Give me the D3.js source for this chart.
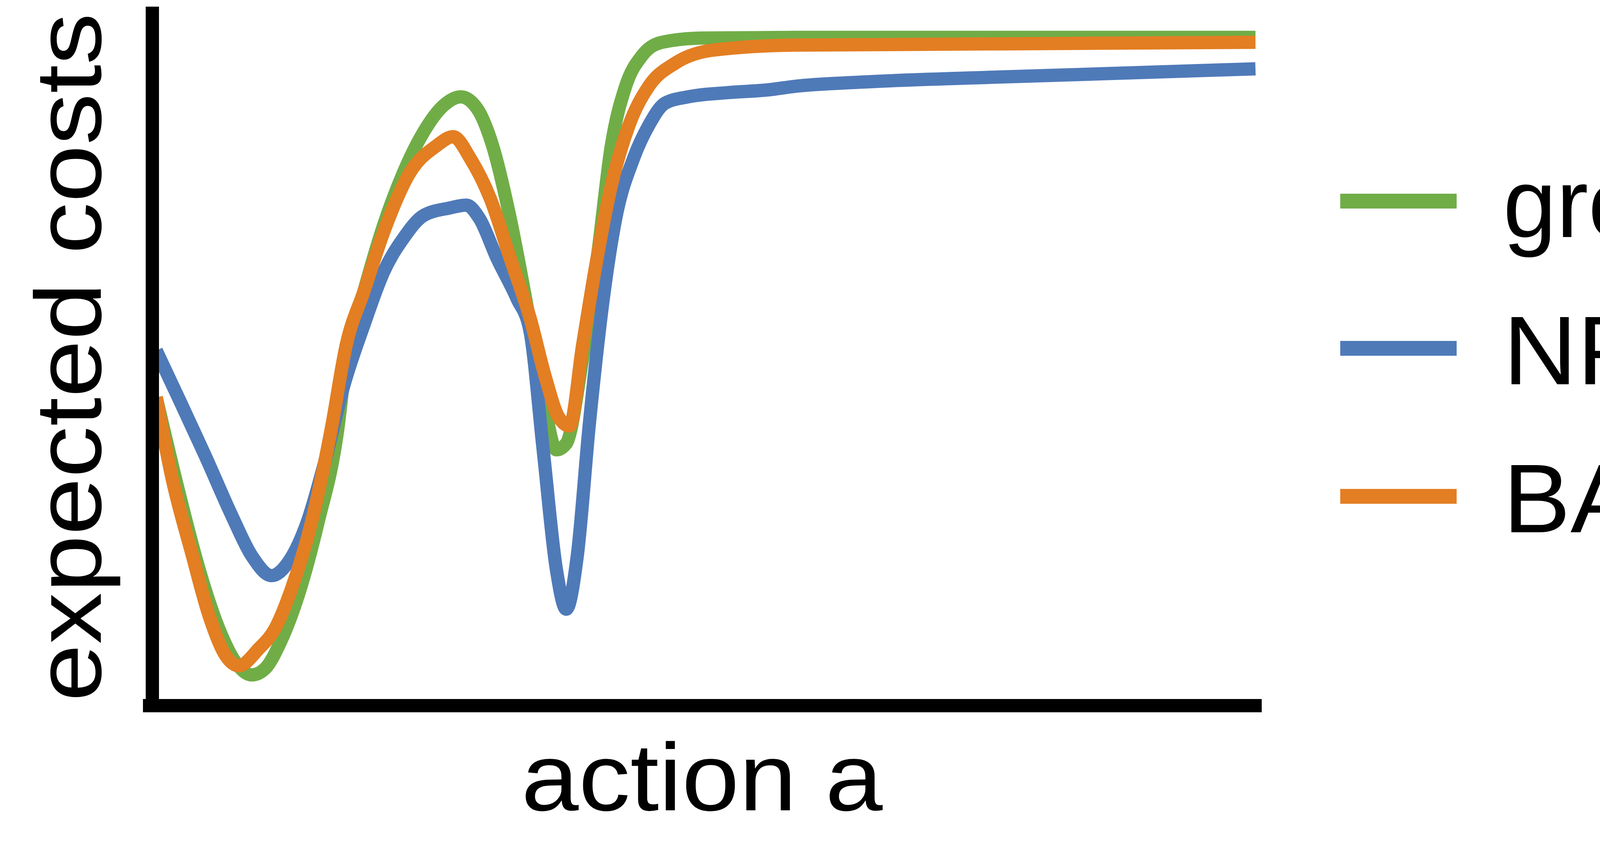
<!DOCTYPE html><html><head><meta charset="utf-8">
<script src="https://cdn.jsdelivr.net/npm/d3@7"></script>
<style>body{margin:0;background:#fff;overflow:hidden}</style></head><body>
<svg id="c" width="5315" height="2192"></svg>
<script>
const seriesNames=["ground truth","NPE-MC","BAM"];
const colors=["#70ad47","#4f7ab8","#e37e22"];
const gtX=[0,.2,.39,.57,.72,.87,.99,1.13,1.29,1.47,1.65,1.73,1.89,2.07,2.25,2.43,2.61,2.77,2.92,3.06,3.22,3.37,3.52,3.64,3.73,3.88,4.02,4.14,4.27,4.42,4.6,4.96,5.81,10];
const gtY=[4.41,3.09,1.95,1.1,.625,.44,.53,.91,1.57,2.61,3.94,4.98,5.93,6.88,7.63,8.2,8.58,8.71,8.54,8.01,6.97,5.74,4.41,3.66,3.75,4.98,6.5,8.01,8.86,9.3,9.49,9.55,9.56,9.56];
const bamX=[0,.14,.33,.48,.63,.75,.93,1.08,1.23,1.41,1.59,1.73,1.89,2.07,2.31,2.55,2.7,2.86,3.04,3.22,3.4,3.54,3.66,3.76,3.88,4,4.14,4.3,4.48,4.72,5.08,5.81,10];
const bamY=[4.41,3.28,2.14,1.29,.72,.57,.81,1.1,1.67,2.61,3.94,5.17,5.93,6.78,7.63,8.01,8.14,7.82,7.25,6.4,5.55,4.7,4.13,4,5.17,6.31,7.44,8.3,8.86,9.19,9.38,9.45,9.49];
const npeX=[0,.2,.45,.69,.87,1.05,1.2,1.37,1.53,1.71,1.89,2.07,2.25,2.43,2.67,2.82,2.94,3.1,3.28,3.4,3.52,3.64,3.73,3.83,3.94,4.06,4.18,4.34,4.48,4.63,4.84,5.2,5.57,5.81,6.41,7.61,10];
const npeY=[5.08,4.41,3.56,2.71,2.14,1.86,2.05,2.61,3.47,4.6,5.45,6.21,6.69,7.01,7.12,7.16,6.97,6.4,5.83,5.36,3.66,1.95,1.38,2.14,4.03,5.74,6.97,7.82,8.3,8.62,8.71,8.77,8.81,8.86,8.92,8.99,9.11];
const svg=d3.select("#c");
const x=d3.scaleLinear().domain([0,10]).range([400,3214]);
const y=d3.scaleLinear().domain([0,10]).range([1807,17]);
const line=d3.line().x(d=>x(d[0])).y(d=>y(d[1])).curve(d3.curveMonotoneX);
const data=[[gtX,gtY,0],[npeX,npeY,1],[bamX,bamY,2]];
data.forEach(([xs,ys,i])=>{
 svg.append("path").attr("d",line(xs.map((v,j)=>[v,ys[j]]))).attr("fill","none")
  .attr("stroke",colors[i]).attr("stroke-width",34).attr("stroke-linejoin","round");
});
svg.append("line").attr("x1",390).attr("x2",390).attr("y1",17).attr("y2",1823).attr("stroke","#000").attr("stroke-width",34);
svg.append("line").attr("x1",366).attr("x2",3230).attr("y1",1807).attr("y2",1807).attr("stroke","#000").attr("stroke-width",34);
const f="'Liberation Sans',Arial,sans-serif";
svg.append("text").attr("x",1797).attr("y",2075).attr("text-anchor","middle").attr("font-family",f).attr("font-size",245)
 .attr("textLength",925).attr("lengthAdjust","spacingAndGlyphs").text("action a");
svg.append("text").attr("transform","translate(258,915) rotate(-90)").attr("text-anchor","middle").attr("font-family",f).attr("font-size",240)
 .attr("textLength",1763).attr("lengthAdjust","spacingAndGlyphs").text("expected costs");
const legW=[1322,1034,560];
seriesNames.forEach((n,i)=>{
 const ly=[515,892,1271][i];
 svg.append("line").attr("x1",3431).attr("x2",3729).attr("y1",ly).attr("y2",ly).attr("stroke",colors[i]).attr("stroke-width",38);
 svg.append("text").attr("x",3848).attr("y",ly+92).attr("font-family",f).attr("font-size",250)
  .attr("textLength",legW[i]).attr("lengthAdjust","spacingAndGlyphs").text(n);
});
</script></body></html>
